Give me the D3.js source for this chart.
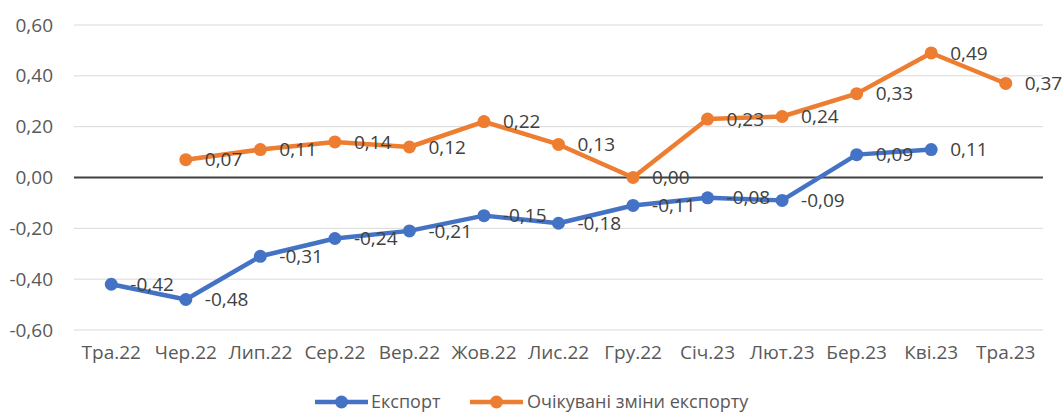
<!DOCTYPE html>
<html><head><meta charset="utf-8">
<script src="https://cdn.jsdelivr.net/npm/d3@7"></script>
<style>body{margin:0;background:#fff;}svg{display:block;font-family:"Open Sans",sans-serif;}</style>
</head><body>
<svg id="c" width="1062" height="414"></svg>
<script>
const categories = ["Тра.22","Чер.22","Лип.22","Сер.22","Вер.22","Жов.22","Лис.22","Гру.22","Січ.23","Лют.23","Бер.23","Кві.23","Тра.23"];
const exportValues = [-0.42,-0.48,-0.31,-0.24,-0.21,-0.15,-0.18,-0.11,-0.08,-0.09,0.09,0.11,null];
const expectedValues = [null,0.07,0.11,0.14,0.12,0.22,0.13,0.00,0.23,0.24,0.33,0.49,0.37];
const yTicks = [-0.6,-0.4,-0.2,0,0.2,0.4,0.6];
const seriesNames = ["Експорт","Очікувані зміни експорту"];
const colors = ["#4472C4","#ED7D31"];

const svg = d3.select("#c");
const x = d3.scaleBand().domain(categories).range([74,1043]);
const y = d3.scaleLinear().domain([-0.6,0.6]).range([330,25]);
const fmt = v => v.toFixed(2).replace(".", ",");
const fs = 19;

// gridlines
svg.append("g").selectAll("line").data(yTicks.filter(t=>t!==0)).join("line")
  .attr("x1",74).attr("x2",1043).attr("y1",d=>y(d)).attr("y2",d=>y(d))
  .attr("stroke","#d9d9d9").attr("stroke-width",1);
svg.append("line").attr("x1",74).attr("x2",1043).attr("y1",y(0)).attr("y2",y(0))
  .attr("stroke","#404040").attr("stroke-width",2);

// y axis labels
const yAxis = d3.axisLeft(y).tickValues(yTicks).tickFormat(fmt).tickSize(0).tickPadding(0);
const ya = svg.append("g").attr("transform","translate(53,0)").call(yAxis);
ya.select(".domain").remove();
ya.selectAll("text").attr("font-size",fs).attr("fill","#595959").attr("font-family","Open Sans");

// x axis labels
const xAxis = d3.axisBottom(x).tickSize(0).tickPadding(0);
const xa = svg.append("g").attr("transform","translate(0,345)").call(xAxis);
xa.select(".domain").remove();
xa.selectAll("text").attr("font-size",fs).attr("fill","#595959").attr("font-family","Open Sans");

const cx = d => x(d) + x.bandwidth()/2;
const series = [exportValues, expectedValues];
series.forEach((vals, si) => {
  const pts = categories.map((c,i)=>({c, v:vals[i]})).filter(p=>p.v!==null);
  const line = d3.line().x(p=>cx(p.c)).y(p=>y(p.v));
  svg.append("path").datum(pts).attr("d",line).attr("fill","none")
    .attr("stroke",colors[si]).attr("stroke-width",4.5).attr("stroke-linejoin","round");
  svg.append("g").selectAll("circle").data(pts).join("circle")
    .attr("cx",p=>cx(p.c)).attr("cy",p=>y(p.v)).attr("r",6.5).attr("fill",colors[si]);
  svg.append("g").selectAll("text").data(pts).join("text")
    .attr("x",p=>cx(p.c)+19).attr("y",p=>y(p.v)).attr("dy","0.35em")
    .attr("font-size",fs).attr("fill","#404040").text(p=>fmt(p.v));
});

// legend
const leg = [{x1:315,x2:368,tx:371},{x1:470,x2:523,tx:527}];
leg.forEach((l,i)=>{
  const ly = 402;
  svg.append("line").attr("x1",l.x1).attr("x2",l.x2).attr("y1",ly).attr("y2",ly)
    .attr("stroke",colors[i]).attr("stroke-width",4.5);
  svg.append("circle").attr("cx",(l.x1+l.x2)/2).attr("cy",ly).attr("r",6.5).attr("fill",colors[i]);
  svg.append("text").attr("x",l.tx).attr("y",ly).attr("dy","0.35em").attr("font-size",18)
    .attr("fill","#595959").text(seriesNames[i]);
});
</script>
</body></html>
